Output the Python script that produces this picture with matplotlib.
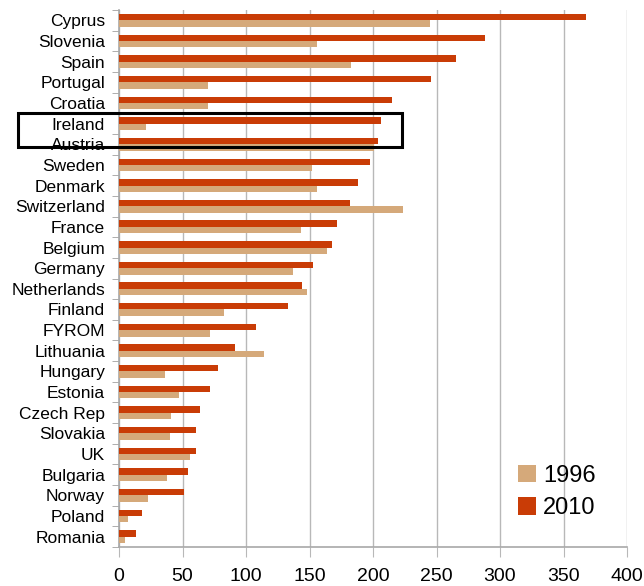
import matplotlib
matplotlib.use("Agg")
import matplotlib.pyplot as plt
from matplotlib.patches import Rectangle
import numpy as np

countries = ["Cyprus", "Slovenia", "Spain", "Portugal", "Croatia", "Ireland", "Austria",
             "Sweden", "Denmark", "Switzerland", "France", "Belgium", "Germany",
             "Netherlands", "Finland", "FYROM", "Lithuania", "Hungary", "Estonia",
             "Czech Rep", "Slovakia", "UK", "Bulgaria", "Norway", "Poland", "Romania"]
v2010 = [368, 288, 265, 246, 215, 206, 204, 198, 188, 182, 172, 168, 153, 144, 133,
         108, 91, 78, 72, 64, 61, 61, 54, 51, 18, 13]
v1996 = [245, 156, 183, 70, 70, 21, 201, 152, 156, 224, 143, 164, 137, 148, 83,
         72, 114, 36, 47, 41, 40, 56, 38, 23, 7, 5]
xticks = [0, 50, 100, 150, 200, 250, 300, 350, 400]
highlight = "Ireland"

c2010 = "#C93C06"
c1996 = "#D5A97A"

plt.rcParams['font.family'] = ['Liberation Sans', 'DejaVu Sans']
fig = plt.figure(figsize=(6.44, 5.86), dpi=100)
ax = fig.add_axes([119/644, 1-547/586, (627-119)/644, (547-10)/586])

n = len(countries)
y = np.arange(n)
h = 0.31
ax.barh(y - h/2, v2010, height=h, color=c2010, label="2010", zorder=3)
ax.barh(y + h/2, v1996, height=h, color=c1996, label="1996", zorder=3)

ax.set_ylim(n - 0.5, -0.5)
ax.set_xlim(0, 400)
ax.set_xticks(xticks)
ax.set_xticklabels([str(t) for t in xticks], fontsize=14)
ax.set_yticks(y)
ax.set_yticklabels(countries, fontsize=12.5)
ax.set_yticks(np.arange(n + 1) - 0.5, minor=True)
ax.tick_params(axis='y', which='major', length=0, pad=10)
ax.tick_params(axis='y', which='minor', length=5, color="#A0A0A0", direction='out')
ax.tick_params(axis='x', length=7, color="#B8B8B8", direction='out', pad=8)
ax.xaxis.grid(True, color="#B8B8B8", linewidth=1, zorder=0)
for s in ["top", "right"]:
    ax.spines[s].set_visible(False)
for s in ["left", "bottom"]:
    ax.spines[s].set_color("#A8A8A8")
    ax.spines[s].set_linewidth(1.2)

# highlight box around Ireland
i = countries.index(highlight)
rect = Rectangle((-79.5, i - 0.52), 302, 1.66, fill=False, edgecolor="black",
                 linewidth=2.2, clip_on=False, zorder=5)
ax.add_patch(rect)

handles, labels = ax.get_legend_handles_labels()
leg = ax.legend(handles[::-1], labels[::-1], loc="lower right", bbox_to_anchor=(0.98, 0.012),
                frameon=False, fontsize=17, handlelength=0.75, handleheight=0.75,
                handletextpad=0.3, labelspacing=0.45)

fig.savefig("out.png", dpi=100)
